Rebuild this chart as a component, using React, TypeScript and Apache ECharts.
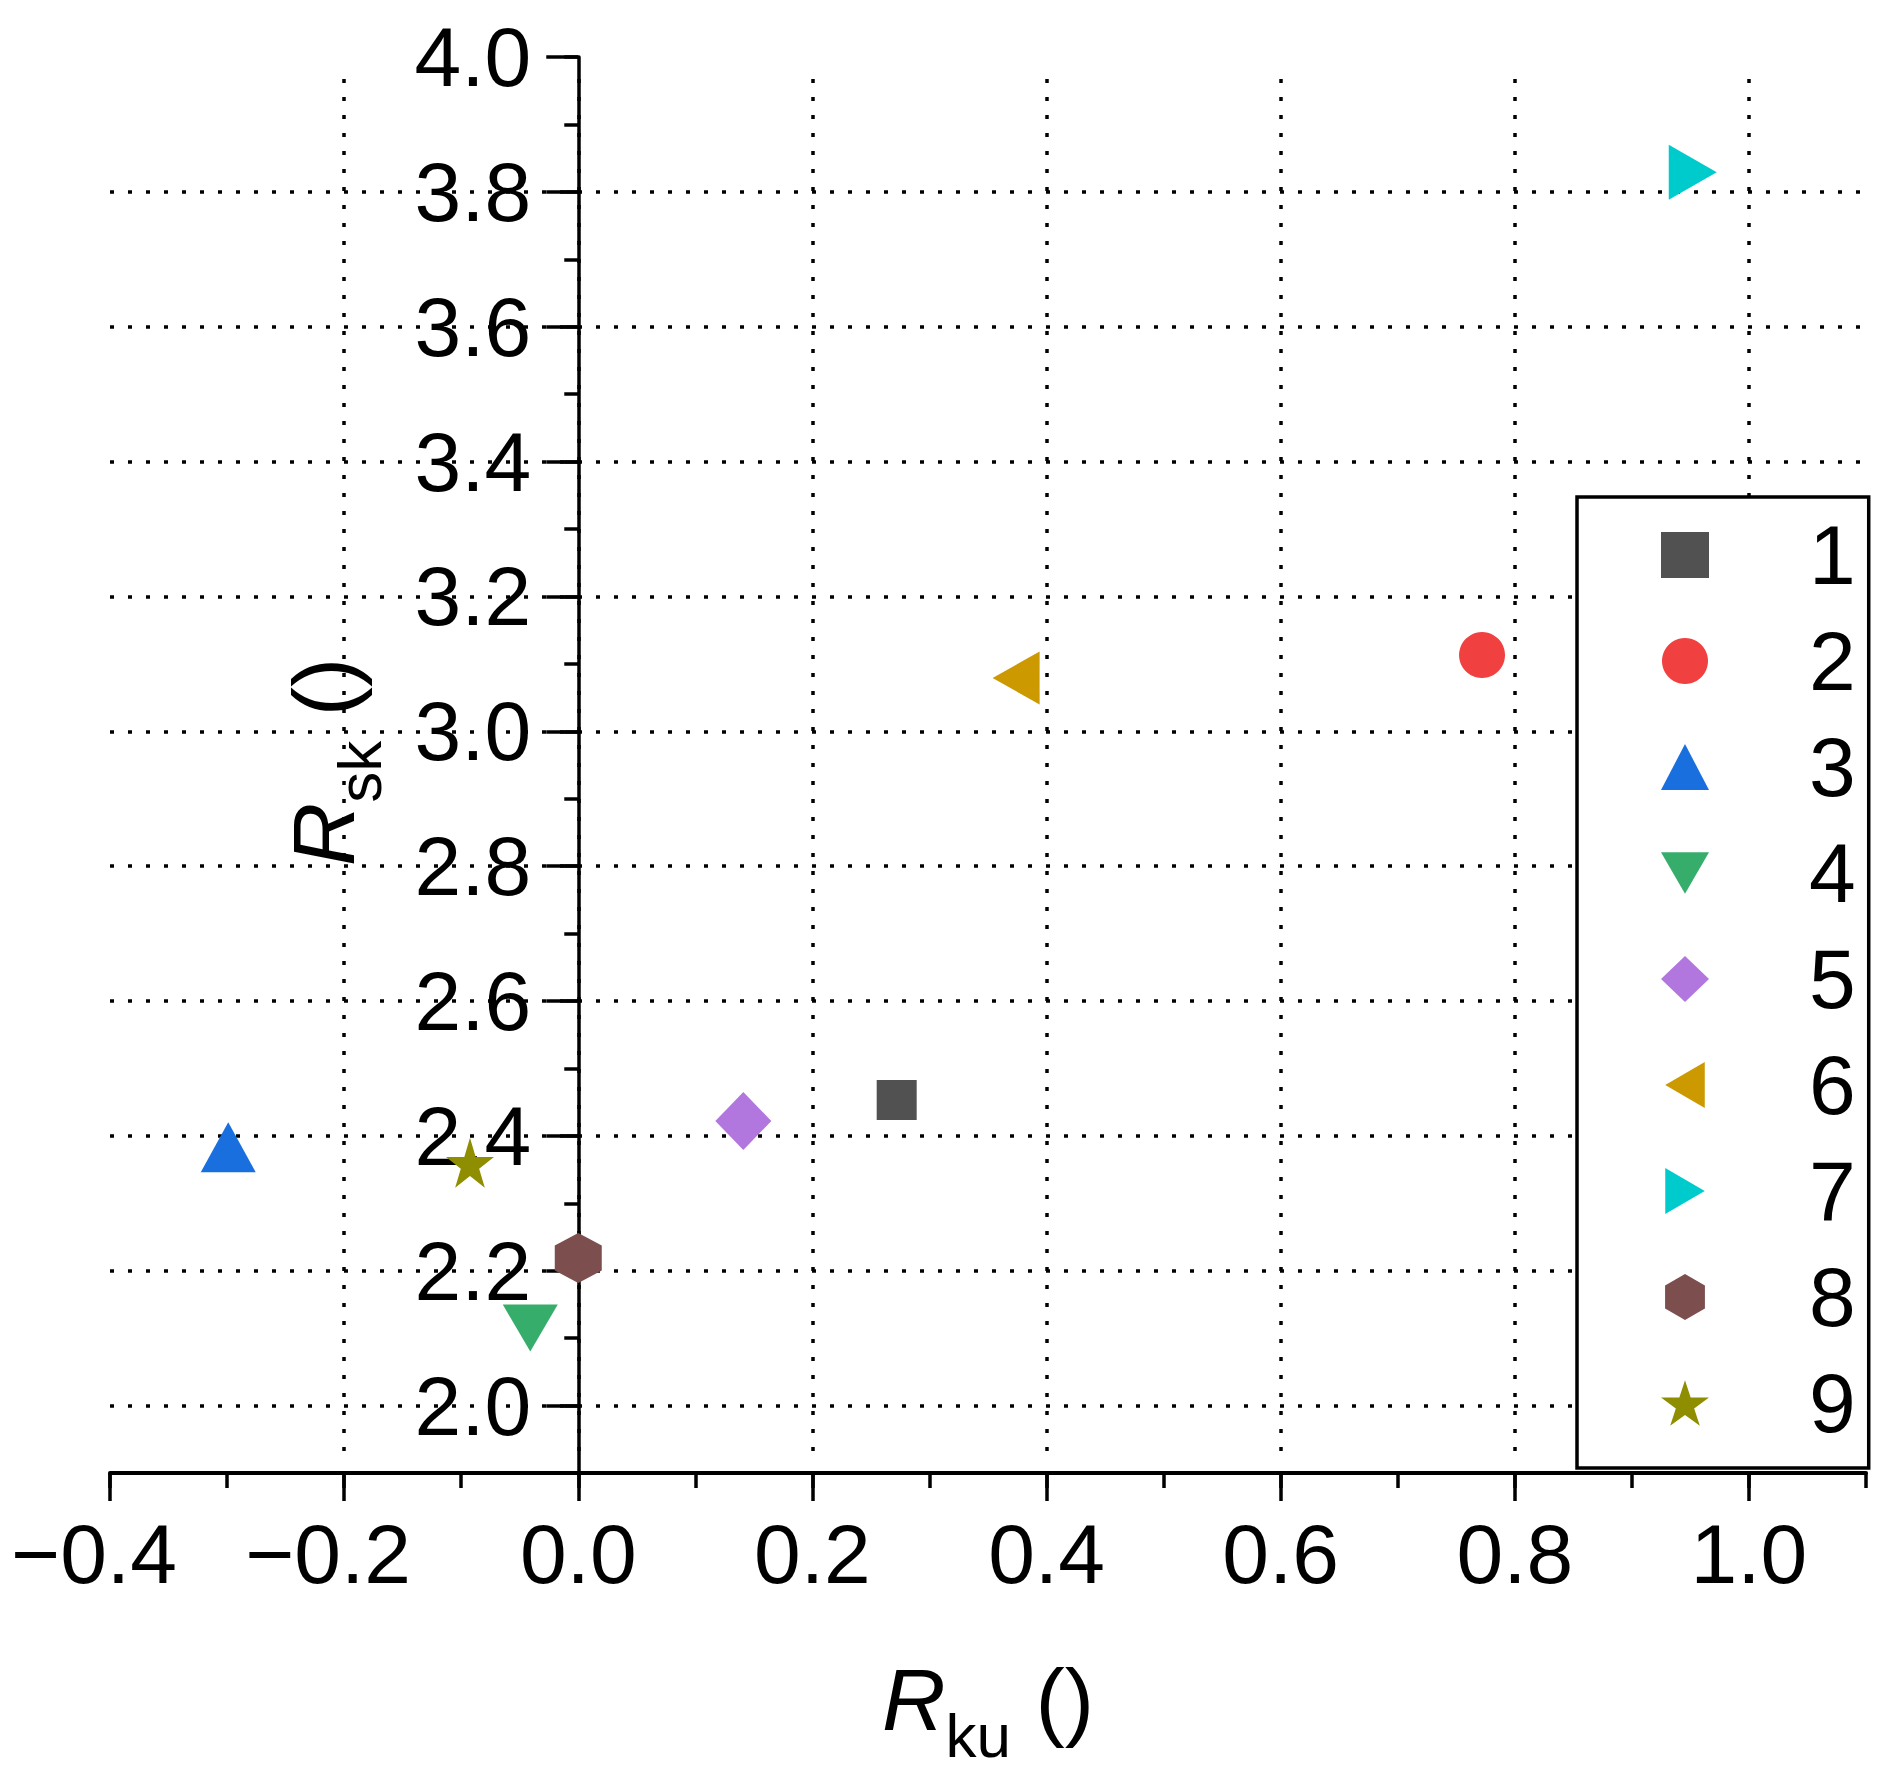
import React, { useEffect, useRef } from "react";
import * as echarts from "echarts";

// ---- data ----
const seriesNames = ["1", "2", "3", "4", "5", "6", "7", "8", "9"];
const rkuValues = [0.272, 0.772, -0.299, -0.041, 0.141, 0.374, 0.952, 0.0, -0.0925];
const rskValues = [2.453, 3.113, 2.383, 2.115, 2.422, 3.079, 3.829, 2.219, 2.36];

// axis ranges / ticks
const xRange = [-0.4, 1.1];
const xLabelMax = 1.0;
const xMajorStep = 0.2;
const xMinorStep = 0.1;
const yRange = [1.9, 4.0];
const yLabelMin = 2.0;
const yMajorStep = 0.2;
const yMinorStep = 0.1;

// axis titles
const xTitle = "{r|R}{s|ku}{p| ()}";
const yTitle = "{r|R}{s|sk}{p| ()}";

// ---- styles ----
const markerColors = ["#515151", "#F14040", "#1A6FDF", "#37AD6B", "#B177DE", "#CC9900", "#00CBCC", "#7D4E4E", "#8E8E00"];
const markerSymbols = [
  "rect",
  "circle",
  "triangle",
  "path://M0,0L100,0L50,86Z",
  "diamond",
  "path://M0,50L86,0L86,100Z",
  "path://M0,0L86,50L0,100Z",
  "path://M50,0L93.3,25L93.3,75L50,100L6.7,75L6.7,25Z",
  "path://M50,0L61.23,34.55L97.55,34.55L68.17,55.9L79.39,90.45L50,69.1L20.61,90.45L31.83,55.9L2.45,34.55L38.77,34.55Z",
];
const markerSizes: number[][] = [
  [40, 40],
  [46, 46],
  [55, 50],
  [55, 47],
  [56, 58],
  [47, 53],
  [48, 55],
  [47, 50],
  [48, 50],
];

const FONT = "'Liberation Sans', Arial, Helvetica, sans-serif";
const BLACK = "#000";
const dotted = { type: [4, 14] as number[], width: 3.5, color: BLACK, cap: "butt" as const };

const nameRich = {
  r: { fontSize: 88, fontStyle: "italic", fontFamily: FONT, color: BLACK, lineHeight: 88, verticalAlign: "top" },
  s: { fontSize: 62, fontFamily: FONT, color: BLACK, lineHeight: 88, verticalAlign: "top", padding: [49, 0, 0, 0] },
  p: { fontSize: 88, fontFamily: FONT, color: BLACK, lineHeight: 88, verticalAlign: "top" },
};

export default function App() {
  const ref = useRef<HTMLDivElement>(null);

  useEffect(() => {
    document.body.style.margin = "0";
    if (!ref.current) return;
    const chart = echarts.init(ref.current, null, { renderer: "svg" });

    const W = 1902;
    const H = 1775;
    const plotLeft = 110;
    const plotRight = 1866;
    const plotTop = 57;
    const plotBottom = 1473;
    const xPx = (v: number) => plotLeft + ((v - xRange[0]) / (xRange[1] - xRange[0])) * (plotRight - plotLeft);
    const yPx = (v: number) => plotBottom - ((v - yRange[0]) / (yRange[1] - yRange[0])) * (plotBottom - plotTop);
    const zeroX = xPx(0);
    const hidden = { show: false };

    const option: any = {
      animation: false,
      backgroundColor: "#fff",
      grid: [
        // 0: data grid
        { left: plotLeft, right: W - plotRight, top: plotTop, bottom: H - plotBottom, outerBoundsMode: "none" },
        // 1: major y ticks and labels at x = 0
        { left: zeroX, right: W - plotRight, top: plotTop, bottom: H - yPx(yLabelMin), outerBoundsMode: "none" },
        // 2: vertical dotted grid lines
        { left: plotLeft, right: W - xPx(xLabelMax), top: 79, bottom: H - 1452, outerBoundsMode: "none" },
        // 3: major x ticks and labels
        { left: plotLeft, right: W - xPx(xLabelMax), top: plotTop, bottom: H - plotBottom, outerBoundsMode: "none" },
        // 4: horizontal dotted grid lines
        { left: plotLeft, right: W - plotRight, top: plotTop, bottom: H - yPx(yLabelMin), outerBoundsMode: "none" },
      ],
      xAxis: [
        {
          gridIndex: 0,
          type: "value",
          min: xRange[0],
          max: xRange[1],
          interval: xMinorStep,
          axisLine: { show: true, onZero: false, lineStyle: { color: BLACK, width: 4 } },
          axisTick: { show: true, length: 15, lineStyle: { color: BLACK, width: 3.5 } },
          axisLabel: hidden,
          splitLine: hidden,
          name: xTitle,
          nameLocation: "middle",
          nameGap: 182.5,
          nameMoveOverlap: false,
          nameTextStyle: { rich: nameRich },
        },
        {
          gridIndex: 1,
          type: "value",
          min: 0,
          max: xRange[1],
          axisLine: { show: false, onZero: false },
          axisTick: hidden,
          axisLabel: hidden,
          splitLine: hidden,
        },
        {
          gridIndex: 2,
          type: "value",
          min: xRange[0],
          max: xLabelMax,
          interval: xMajorStep,
          axisLine: { show: false, onZero: false },
          axisTick: hidden,
          axisLabel: hidden,
          splitLine: { show: true, showMinLine: false, showMaxLine: true, lineStyle: dotted },
        },
        {
          gridIndex: 3,
          type: "value",
          min: xRange[0],
          max: xLabelMax,
          interval: xMajorStep,
          axisLine: { show: false, onZero: false },
          axisTick: { show: true, length: 28, lineStyle: { color: BLACK, width: 3.5 } },
          axisLabel: {
            show: true,
            margin: 39,
            formatter: (v: number) => {
              const r = Math.round(v * 10) / 10;
              return r < 0 ? `{n|\u2212${Math.abs(r).toFixed(1)}}` : `{p|${r.toFixed(1)}}`;
            },
            rich: {
              n: { fontSize: 84, fontFamily: FONT, color: BLACK, padding: [0, 32, 0, 0] },
              p: { fontSize: 84, fontFamily: FONT, color: BLACK },
            },
          },
          splitLine: hidden,
        },
        {
          gridIndex: 4,
          type: "value",
          min: xRange[0],
          max: xRange[1],
          axisLine: { show: false, onZero: false },
          axisTick: hidden,
          axisLabel: hidden,
          splitLine: hidden,
        },
      ],
      yAxis: [
        {
          gridIndex: 0,
          type: "value",
          min: yRange[0],
          max: yRange[1],
          interval: yMinorStep,
          axisLine: { show: true, onZero: true, lineStyle: { color: BLACK, width: 3.5 } },
          axisTick: { show: true, length: 14, lineStyle: { color: BLACK, width: 3.5 } },
          axisLabel: hidden,
          splitLine: hidden,
        },
        {
          gridIndex: 1,
          type: "value",
          min: yLabelMin,
          max: yRange[1],
          interval: yMajorStep,
          axisLine: { show: false, onZero: false },
          axisTick: { show: true, length: 32, lineStyle: { color: BLACK, width: 3.5 } },
          axisLabel: {
            show: true,
            margin: 47,
            fontSize: 84,
            fontFamily: FONT,
            color: BLACK,
            padding: [0, 0, 16, 0],
            formatter: (v: number) => v.toFixed(1),
          },
          splitLine: hidden,
        },
        { gridIndex: 2, type: "value", min: 0, max: 1, show: false },
        { gridIndex: 3, type: "value", min: 0, max: 1, show: false },
        {
          gridIndex: 4,
          type: "value",
          min: yLabelMin,
          max: yRange[1],
          interval: yMajorStep,
          axisLine: { show: false, onZero: false },
          axisTick: hidden,
          axisLabel: hidden,
          splitLine: { show: true, showMinLine: true, showMaxLine: false, lineStyle: dotted },
        },
      ],
      graphic: [
        {
          type: "text",
          x: zeroX - 210.5,
          y: 762,
          rotation: Math.PI / 2,
          silent: true,
          style: { text: yTitle, rich: nameRich, align: "center", verticalAlign: "bottom" },
        },
      ],
      legend: {
        show: true,
        orient: "vertical",
        left: 1577,
        top: 497,
        padding: [16, 13, 23, 84],
        itemGap: 22,
        itemWidth: 48,
        itemHeight: 46,
        borderColor: BLACK,
        borderWidth: 3.5,
        backgroundColor: "#fff",
        selectedMode: false,
        textStyle: { fontSize: 84, fontFamily: FONT, color: BLACK, lineHeight: 84, padding: [0, 0, 0, 95] },
        data: seriesNames,
      },
      series: seriesNames.map((n, i) => ({
        type: "scatter",
        name: n,
        xAxisIndex: 0,
        yAxisIndex: 0,
        data: [[rkuValues[i], rskValues[i]]],
        symbol: markerSymbols[i],
        symbolSize: markerSizes[i],
        itemStyle: { color: markerColors[i], opacity: 1 },
        silent: true,
        emphasis: { disabled: true },
        z: 3,
      })),
    };

    chart.setOption(option);
    return () => chart.dispose();
  }, []);

  return <div ref={ref} style={{ width: 1902, height: 1775 }} />;
}
